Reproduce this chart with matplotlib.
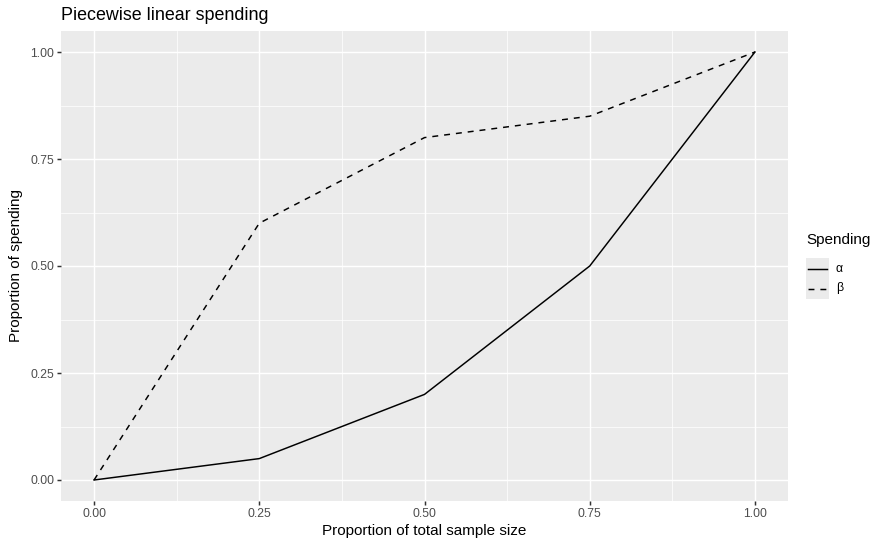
import matplotlib
matplotlib.use("Agg")
import matplotlib.pyplot as plt
from matplotlib.lines import Line2D
from matplotlib.patches import Rectangle

# data
timing = [0.0, 0.25, 0.5, 0.75, 1.0]
alpha_spend = [0.0, 0.05, 0.2, 0.5, 1.0]
beta_spend = [0.0, 0.6, 0.8, 0.85, 1.0]
ticks = [0.0, 0.25, 0.5, 0.75, 1.0]
tick_labels = ["0.00", "0.25", "0.50", "0.75", "1.00"]
minor_ticks = [0.125, 0.375, 0.625, 0.875]

plt.rcParams["font.family"] = ["Liberation Sans", "DejaVu Sans"]

W, H = 876, 542
fig = plt.figure(figsize=(W / 100, H / 100), dpi=100)
ax = fig.add_axes([61 / W, (H - 501.4) / H, (788 - 61) / W, (501.4 - 30.6) / H])
ax.set_facecolor("#EBEBEB")

ax.plot(timing, alpha_spend, color="black", lw=1.07, solid_joinstyle="miter")
ax.plot(timing, beta_spend, color="black", lw=1.07, linestyle=(0, (4, 4)))

ax.set_xlim(-0.05, 1.05)
ax.set_ylim(-0.05, 1.05)
ax.set_xticks(ticks)
ax.set_xticklabels(tick_labels)
ax.set_yticks(ticks)
ax.set_yticklabels(tick_labels)
ax.set_xticks(minor_ticks, minor=True)
ax.set_yticks(minor_ticks, minor=True)
ax.grid(which="major", color="white", lw=1.07)
ax.grid(which="minor", color="white", lw=0.53)
ax.set_axisbelow(True)
for s in ax.spines.values():
    s.set_visible(False)
ax.tick_params(which="major", length=2.75, width=1.07, color="#333333",
               labelsize=8.8, labelcolor="#4D4D4D", pad=2.2)
ax.tick_params(which="minor", length=0)

ax.set_xlabel("Proportion of total sample size", fontsize=11, labelpad=3)
ax.set_ylabel("Proportion of spending", fontsize=11, labelpad=5)
fig.text(61 / W, 1 - 15 / H, "Piecewise linear spending", fontsize=12.9,
         va="center", ha="left")

# legend, ggplot style
fig.text(806 / W, 1 - 240 / H, "Spending", fontsize=11, va="center", ha="left")
fig.patches.append(Rectangle((806 / W, 1 - 299 / H), 23 / W, 41 / H,
                             transform=fig.transFigure, facecolor="#EBEBEB",
                             edgecolor="none"))
for y, ls, lab in [(268.5, "-", "α"), (288.5, (0, (4, 4)), "β")]:
    fig.add_artist(Line2D([808 / W, 827 / W], [1 - y / H, 1 - y / H],
                          transform=fig.transFigure, color="black", lw=1.07,
                          linestyle=ls))
    fig.text(836 / W, 1 - y / H, lab, fontsize=8.8, va="center", ha="left")

fig.savefig("out.png", dpi=100)
